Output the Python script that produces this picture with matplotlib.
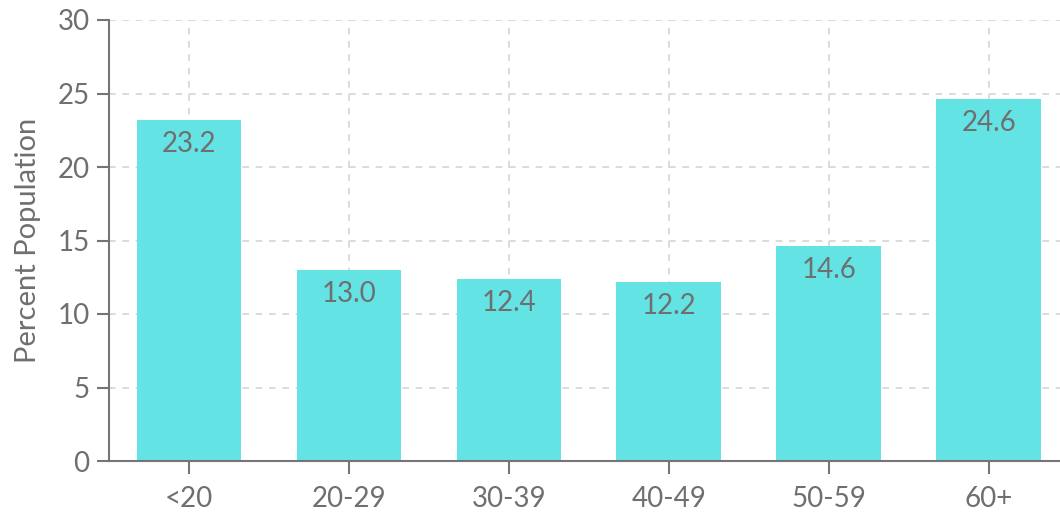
import matplotlib
matplotlib.use("Agg")
import matplotlib.pyplot as plt

categories = ["<20", "20-29", "30-39", "40-49", "50-59", "60+"]
values = [23.2, 13.0, 12.4, 12.2, 14.6, 24.6]
yticks = [0, 5, 10, 15, 20, 25, 30]

plt.rcParams['font.family'] = ['Lato', 'DejaVu Sans']
axis_col = '#757575'
text_col = '#6f6f6f'

fig = plt.figure(figsize=(10.6, 5.13), dpi=100)
ax = fig.add_axes([109/1060, 1 - 461/513, (1060-109)/1060, (461-20)/513])

x = list(range(len(categories)))
ax.bar(x, values, width=0.656, color='#63E3E3', zorder=2)
for xi, v in zip(x, values):
    ax.annotate(f"{v:.1f}", (xi, v), xytext=(0, -24), textcoords='offset pixels',
                ha='center', va='center', fontsize=20, color=text_col, zorder=3)

ax.set_xlim(-0.5, 5.444)
ax.set_ylim(0, 30)
ax.set_xticks(x)
ax.set_xticklabels(categories)
ax.set_yticks(yticks)
ax.grid(True, color='#d4d4d4', linestyle=(0, (4, 4)), linewidth=1.2, zorder=0)
ax.set_axisbelow(True)
for s in ['top', 'right']:
    ax.spines[s].set_visible(False)
for s in ['left', 'bottom']:
    ax.spines[s].set_color(axis_col)
    ax.spines[s].set_linewidth(1.5)
ax.tick_params(axis='both', colors=axis_col, labelcolor=text_col, labelsize=20,
               length=9, width=1.5)
ax.tick_params(axis='x', pad=9)
ax.tick_params(axis='y', pad=5)
ax.set_ylabel("Percent Population", fontsize=21, color=text_col, labelpad=12)

fig.savefig("out.png", dpi=100)
